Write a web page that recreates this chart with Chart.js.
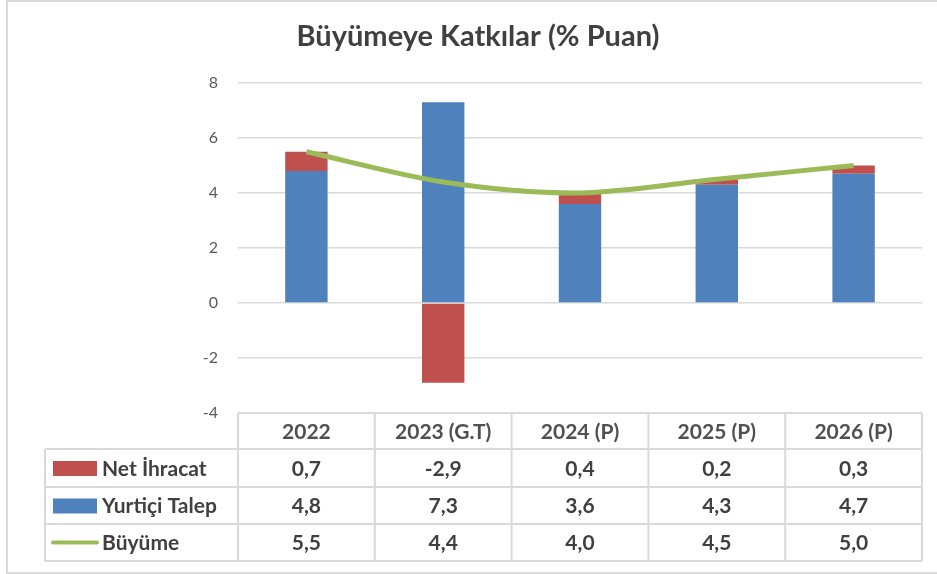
<!DOCTYPE html>
<html lang="tr">
<head>
<meta charset="utf-8">
<title>Büyümeye Katkılar</title>
<script src="https://cdn.jsdelivr.net/npm/chart.js@4.4.1/dist/chart.umd.min.js"></script>
<style>
  html, body { margin: 0; padding: 0; background: #fff; }
  #wrap { width: 937px; height: 574px; position: relative; }
</style>
</head>
<body>
<div id="wrap"><canvas id="myChart"></canvas></div>
<script>
// Chart data
const categories = ['2022', '2023 (G.T)', '2024 (P)', '2025 (P)', '2026 (P)'];
const netIhracat = [0.7, -2.9, 0.4, 0.2, 0.3];
const yurticiTalep = [4.8, 7.3, 3.6, 4.3, 4.7];
const buyume = [5.5, 4.4, 4.0, 4.5, 5.0];
const yTicks = [-4, -2, 0, 2, 4, 6, 8];
const chartTitle = 'Büyümeye Katkılar (% Puan)';

const RED = '#C0504D';
const BLUE = '#4F81BD';
const GREEN = '#9BBB59';
const GRID = '#d9d9d9';
const TEXT = '#404040';
const FONT = 'Lato, "Open Sans", sans-serif';

function fmt(v) {
    return v.toFixed(1).replace('.', ',');
}

// outer frame, white background and the title
const framePlugin = {
    id: 'frame',
    beforeDraw(chart) {
        const c = chart.ctx;
        c.save();
        c.fillStyle = '#fff';
        c.fillRect(0, 0, chart.width, chart.height);
        c.strokeStyle = GRID;
        c.lineWidth = 2;
        c.strokeRect(7, 1, chart.width + 10, chart.height - 2);

        c.fillStyle = TEXT;
        c.font = 'bold 29px ' + FONT;
        c.textAlign = 'center';
        c.textBaseline = 'alphabetic';
        c.fillText(chartTitle, 478, 46);
        c.restore();
    }
};

// data table under the plot, columns follow the x scale
const tablePlugin = {
    id: 'dataTable',
    afterDraw(chart) {
        const c = chart.ctx;
        const xs = chart.scales.x;
        const area = chart.chartArea;
        const n = categories.length;
        const colW = (xs.right - xs.left) / n;
        const rows = [area.bottom, area.bottom + 36, area.bottom + 74, area.bottom + 111, area.bottom + 148];
        const legendLeft = 45;

        c.save();
        c.strokeStyle = GRID;
        c.lineWidth = 2;
        c.beginPath();
        // horizontal lines
        c.moveTo(xs.left, rows[0]); c.lineTo(xs.right, rows[0]);
        for (let r = 1; r < rows.length; r++) {
            c.moveTo(legendLeft, rows[r]); c.lineTo(xs.right, rows[r]);
        }
        // vertical lines
        c.moveTo(legendLeft, rows[1]); c.lineTo(legendLeft, rows[4]);
        for (let i = 0; i <= n; i++) {
            const x = xs.left + i * colW;
            c.moveTo(x, rows[0]); c.lineTo(x, rows[4]);
        }
        c.stroke();

        c.fillStyle = '#505050';
        c.textAlign = 'center';
        c.textBaseline = 'middle';
        c.font = 'bold 21px ' + FONT;
        categories.forEach((cat, i) => {
            c.fillText(cat, xs.getPixelForValue(i), (rows[0] + rows[1]) / 2 + 1);
        });

        const series = [
            { name: 'Net İhracat', values: netIhracat, color: RED, key: 'box' },
            { name: 'Yurtiçi Talep', values: yurticiTalep, color: BLUE, key: 'box' },
            { name: 'Büyüme', values: buyume, color: GREEN, key: 'line' }
        ];
        series.forEach((s, r) => {
            const yMid = (rows[r + 1] + rows[r + 2]) / 2;
            // legend key
            if (s.key === 'box') {
                c.fillStyle = s.color;
                c.fillRect(53, yMid - 7, 44, 15);
            } else {
                c.strokeStyle = s.color;
                c.lineWidth = 4;
                c.lineCap = 'round';
                c.beginPath();
                c.moveTo(53, yMid); c.lineTo(97, yMid);
                c.stroke();
            }
            c.fillStyle = TEXT;
            c.font = 'bold 21px ' + FONT;
            c.textAlign = 'left';
            c.fillText(s.name, 102, yMid + 1);
            c.textAlign = 'center';
            s.values.forEach((v, i) => {
                c.fillText(fmt(v), xs.getPixelForValue(i), yMid + 1);
            });
        });
        c.restore();
    }
};

const ctx = document.getElementById('myChart').getContext('2d');

const myChart = new Chart(ctx, {
    type: 'bar',
    data: {
        labels: categories,
        datasets: [
            {
                type: 'line',
                label: 'Büyüme',
                data: buyume,
                borderColor: GREEN,
                backgroundColor: GREEN,
                borderWidth: 5,
                pointRadius: 0,
                tension: 0.3,
                stack: 'line'
            },
            {
                label: 'Yurtiçi Talep',
                data: yurticiTalep,
                backgroundColor: BLUE,
                stack: 'bars',
                barPercentage: 0.31,
                categoryPercentage: 1
            },
            {
                label: 'Net İhracat',
                data: netIhracat,
                backgroundColor: RED,
                stack: 'bars',
                barPercentage: 0.31,
                categoryPercentage: 1
            }
        ]
    },
    options: {
        responsive: true,
        maintainAspectRatio: false,
        animation: false,
        layout: { padding: { left: 0, right: 15, top: 83, bottom: 161 } },
        plugins: {
            legend: { display: false },
            tooltip: { enabled: false },
            title: { display: false }
        },
        scales: {
            x: {
                display: false,
                stacked: true
            },
            y: {
                stacked: true,
                min: -4,
                max: 8,
                afterBuildTicks(scale) {
                    scale.ticks = yTicks.map(v => ({ value: v }));
                },
                afterFit(scale) {
                    scale.width = 238;
                },
                border: { display: false },
                grid: { color: GRID, lineWidth: 1.5, drawTicks: false },
                ticks: {
                    color: '#595959',
                    padding: 20,
                    font: { family: FONT, size: 16 }
                }
            }
        }
    },
    plugins: [framePlugin, tablePlugin]
});
</script>
</body>
</html>
